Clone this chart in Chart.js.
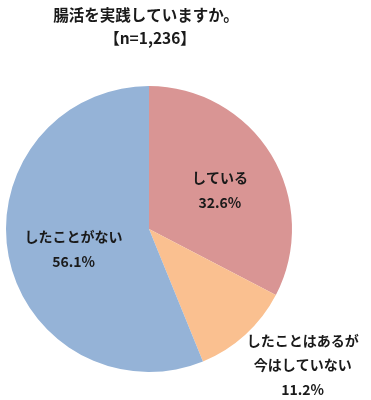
<!DOCTYPE html>
<html><head><meta charset="utf-8">
<script src="https://cdn.jsdelivr.net/npm/chart.js@4.4.1/dist/chart.umd.min.js"></script>
<style>html,body{margin:0;padding:0;background:#fff;}#wrap{width:371px;height:400px;position:relative;}</style>
</head><body>
<div id="wrap"><canvas id="c" width="371" height="400"></canvas></div>
<script>
const titleLines = ["腸活を実践していますか。", "【n=1,236】"];
const categories = ["している", "したことはあるが\n今はしていない", "したことがない"];
const values = [32.6, 11.2, 56.1];
const colors = ["#D99594", "#FAC090", "#95B3D7"];
const labelPos = [ {f:0.58, dx:0, dy:4}, {f:1.45, dx:14, dy:-17.5}, {f:0.58, dx:6, dy:4} ];
const FONT = '"Noto Sans CJK JP", "Noto Sans", sans-serif';

const labelPlugin = {
  id: 'labels',
  afterDraw(chart) {
    const ctx = chart.ctx;
    ctx.save();
    ctx.fillStyle = '#1a1a1a';
    ctx.textAlign = 'center';
    ctx.textBaseline = 'middle';
    ctx.font = 'bold 15.5px ' + FONT;
    ctx.fillText(titleLines[0], 146, 15);
    ctx.fillText(titleLines[1], 150, 38);
    const meta = chart.getDatasetMeta(0);
    ctx.font = 'bold 14px ' + FONT;
    meta.data.forEach((arc, i) => {
      const p = arc.getProps(['x','y','startAngle','endAngle','outerRadius'], true);
      const mid = (p.startAngle + p.endAngle) / 2;
      const r = p.outerRadius * labelPos[i].f;
      const cx = p.x + Math.cos(mid) * r + labelPos[i].dx;
      const cy = p.y + Math.sin(mid) * r + labelPos[i].dy;
      const lines = categories[i].split('\n').concat([values[i].toFixed(1) + '%']);
      const lh = 24.5;
      const top = cy - (lines.length - 1) * lh / 2;
      lines.forEach((t, k) => ctx.fillText(t, cx, top + k * lh));
    });
    ctx.restore();
  }
};

new Chart(document.getElementById('c'), {
  type: 'pie',
  data: { labels: categories, datasets: [{ data: values, backgroundColor: colors, borderWidth: 0 }] },
  options: {
    responsive: false, animation: false,
    layout: { padding: { left: 6, right: 79, top: 86, bottom: 28 } },
    plugins: { legend: { display: false }, tooltip: { enabled: false }, title: { display: false } }
  },
  plugins: [labelPlugin]
});
</script>
</body></html>
